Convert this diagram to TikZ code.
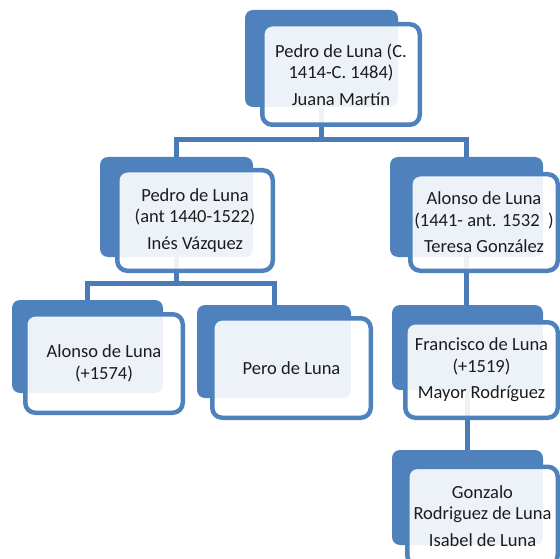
\documentclass[tikz,border=0pt]{standalone}
\usepackage{fontspec}
\setmainfont{Carlito}
\definecolor{ablue}{RGB}{79,129,189}
\definecolor{cblue}{RGB}{74,123,183}
\definecolor{txt}{RGB}{28,28,28}
\begin{document}
\begin{tikzpicture}[x=1pt,y=-1pt,
  backbox/.style={fill=ablue, rounded corners=8pt, inner sep=0pt, outer sep=0pt},
  frontbox/.style={draw=ablue, line width=4.5pt, fill=white, fill opacity=0.9,
    text opacity=1, draw opacity=1, rounded corners=10pt, align=center,
    font=\fontsize{18.5}{21.5}\selectfont, text=txt, inner sep=0pt, outer sep=0pt},
  conn/.style={draw=cblue, line width=5pt}]
\useasboundingbox (0,0) rectangle (560,559);
\clip (0,0) rectangle (560,559);
% back boxes
\node[backbox, minimum width=153pt, minimum height=97pt]  (topB)    at (321.5,58.5) {};
\node[backbox, minimum width=153pt, minimum height=100pt] (pedroB)  at (176.5,207)  {};
\node[backbox, minimum width=153pt, minimum height=100pt] (alonsoB) at (466.5,207)  {};
\node[backbox, minimum width=151pt, minimum height=93pt]  (leftB)   at (87.5,346.5) {};
\node[backbox, minimum width=154pt, minimum height=93pt]  (peroB)   at (274,351.5)  {};
\node[backbox, minimum width=151pt, minimum height=85pt]  (franB)   at (467.5,347.5) {};
\node[backbox, minimum width=151pt, minimum height=95pt]  (gonB)    at (467.5,497.5) {};
% connectors (behind front boxes)
\draw[conn] (topB.south) -- ++(0,33);
\draw[conn] (pedroB.north) -- ++(0,-17) -| (alonsoB.north);
\draw[conn] (pedroB.south) -- ++(0,26);
\draw[conn] (leftB.north) -- ++(0,-17) -| (peroB.north);
\draw[conn] (alonsoB.south) -- (alonsoB.south |- franB.north);
\draw[conn] (franB.south) -- (franB.south |- gonB.north);
% front boxes
\node[frontbox, minimum width=157.5pt, minimum height=100.5pt] (top) at (341,74.5)
  {Pedro de Luna (C.\\ 1414-C. 1484)\\[5pt] Juana Martín};
\node[frontbox, minimum width=155.5pt, minimum height=100.5pt] (pedro) at (195,220.5)
  {Pedro de Luna\\ (ant 1440-1522)\\[5pt] Inés Vázquez};
\node[frontbox, minimum width=147.5pt, minimum height=96.5pt] (alonso) at (484,222.5)
  {Alonso de Luna\\ (1441- ant. 1532~~)\\[5pt] Teresa González};
\node[frontbox, minimum width=157.5pt, minimum height=98.5pt] (left) at (104,363.5)
  {Alonso de Luna\\ (+1574)};
\node[frontbox, minimum width=158.5pt, minimum height=99.5pt] (pero) at (291.5,368)
  {Pero de Luna};
\node[frontbox, minimum width=152.5pt, minimum height=95.5pt] (fran) at (481.5,370)
  {Francisco de Luna\\ (+1519)\\[5pt] Mayor Rodríguez};
\node[frontbox, minimum width=150.5pt, minimum height=98.5pt] (gon) at (482.5,516)
  {Gonzalo\\ Rodriguez de Luna\\[5pt] Isabel de Luna};
\end{tikzpicture}
\end{document}
